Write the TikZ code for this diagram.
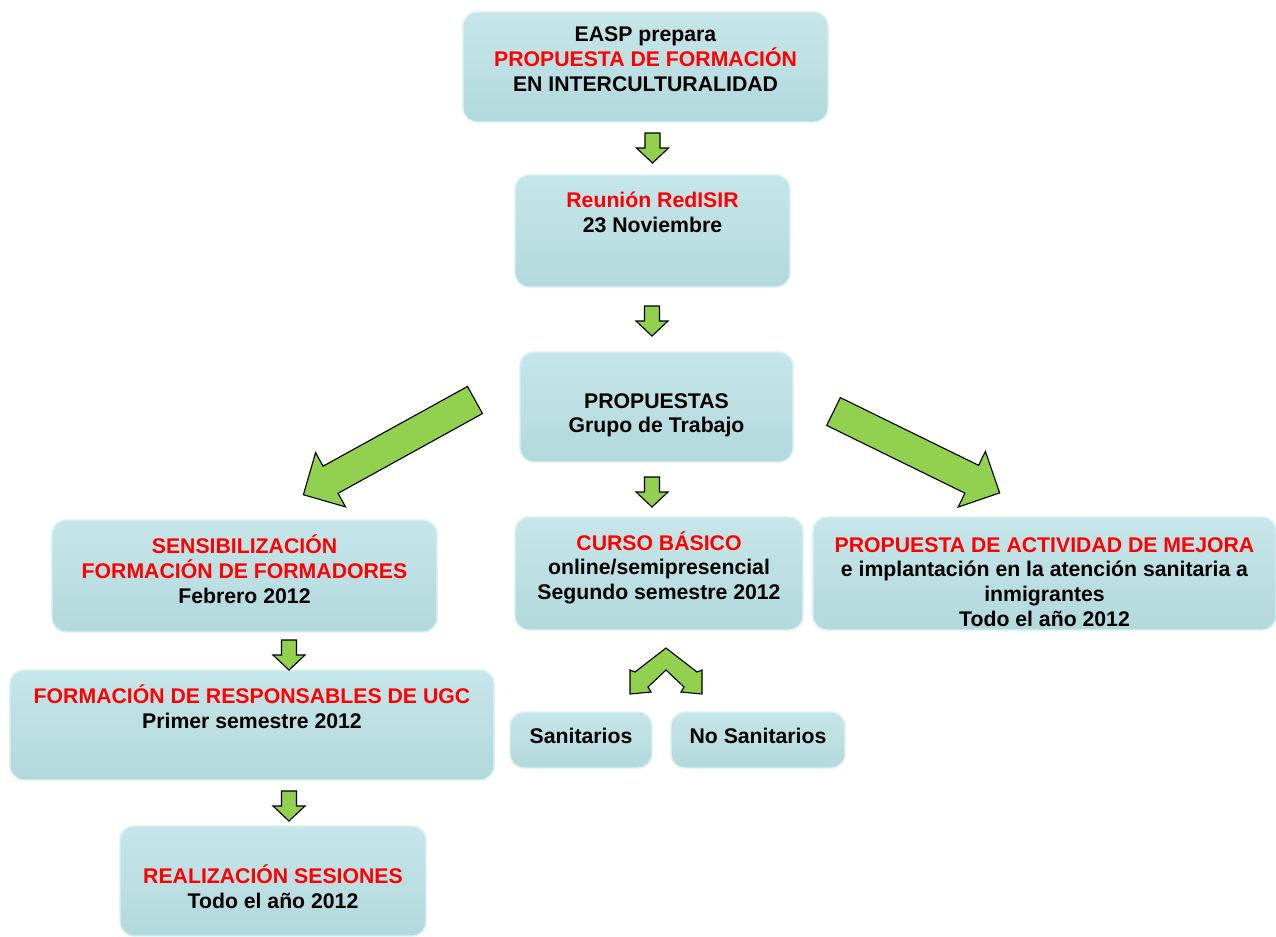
\documentclass[tikz,border=0pt]{standalone}
\usepackage{fontspec}
\setmainfont{Liberation Sans}
\definecolor{verde}{HTML}{92D050}
\definecolor{cajaarriba}{HTML}{C6E6E9}
\definecolor{cajaabajo}{HTML}{B2D9DD}
\definecolor{cajaborde}{HTML}{DDF2F4}

\begin{document}
\begin{tikzpicture}
  [x=0.025cm,y=-0.025cm,
   caja/.style={draw=cajaborde,line width=1pt,rounded corners=0.35cm,
     top color=cajaarriba,bottom color=cajaabajo,align=center,inner sep=0pt,
     font=\bfseries\fontsize{15.1}{17.5}\selectfont},
   flecha/.style={draw=black,fill=verde,line width=0.8pt,line join=miter},
   pics/bajada/.style={code={
     \draw[flecha] (-7.5,-15) -- (-7.5,0) -- (-16,0) -- (0,15) -- (16,0) -- (7.5,0) -- (7.5,-15) -- cycle;}},
   pics/diagonal/.style={code={
     \draw[flecha] (0,-15.5) -- (#1-31,-15.5) -- (#1-31,-31) -- (#1,0) -- (#1-31,31) -- (#1-31,15.5) -- (0,15.5) -- cycle;}}]
  \useasboundingbox (0,0) rectangle (1276,936);

  \node[caja,minimum width=9.125cm,minimum height=2.75cm,text depth=0.4cm] (easp) at (645.5,67)
    {EASP prepara\\\textcolor{red}{PROPUESTA DE FORMACIÓN}\\EN INTERCULTURALIDAD};
  \node[caja,minimum width=6.875cm,minimum height=2.8cm,text depth=0.925cm] (reunion) at (652.5,231)
    {\textcolor{red}{Reunión RedISIR}\\23 Noviembre};
  \node[caja,minimum width=6.825cm,minimum height=2.75cm,text height=1.4cm] (propuestas) at (656.5,407)
    {PROPUESTAS\\Grupo de Trabajo};
  \node[caja,minimum width=9.625cm,minimum height=2.8cm,text depth=0.35cm] (sensib) at (244.5,576)
    {\textcolor{red}{SENSIBILIZACIÓN}\\\textcolor{red}{FORMACIÓN DE FORMADORES}\\Febrero 2012};
  \node[caja,minimum width=7.2cm,minimum height=2.825cm,text depth=0.4cm] (curso) at (659,573.5)
    {\textcolor{red}{CURSO BÁSICO}\\online/semipresencial\\Segundo semestre 2012};
  \node[caja,minimum width=11.575cm,minimum height=2.825cm,text height=2.63cm] (mejora) at (1044.5,573.5)
    {\textcolor{red}{PROPUESTA DE ACTIVIDAD DE MEJORA}\\e implantación en la atención sanitaria a\\inmigrantes\\Todo el año 2012};
  \node[caja,minimum width=12.1cm,minimum height=2.75cm,text depth=0.925cm] (respons) at (252,725)
    {\textcolor{red}{FORMACIÓN DE RESPONSABLES DE UGC}\\Primer semestre 2012};
  \node[caja,minimum width=3.55cm,minimum height=1.4cm,text depth=0.2cm] (sanit) at (581,740) {Sanitarios};
  \node[caja,minimum width=4.35cm,minimum height=1.4cm,text depth=0.2cm] (nosanit) at (758,740) {No Sanitarios};
  \node[caja,minimum width=7.65cm,minimum height=2.75cm,text height=1.36cm] (sesiones) at (273,881)
    {\textcolor{red}{REALIZACIÓN SESIONES}\\Todo el año 2012};

  % flechas verdes
  \pic at (652.5,148) {bajada};
  \pic at (652,321) {bajada};
  \pic at (652,492) {bajada};
  \pic at (289,655) {bajada};
  \pic at (289,806) {bajada};
  \pic[rotate=208.9] at (475,400) {diagonal=196};
  \pic[rotate=-26.1] at (833.5,411.5) {diagonal=185};
  \draw[flecha,shift={(666,648)}] (0,0) -- (31,24) -- (36,22) -- (36,46) -- (15,44) -- (18,39)
    -- (0,22) -- (-18,39) -- (-15,44) -- (-36,46) -- (-36,22) -- (-31,24) -- cycle;
\end{tikzpicture}
\end{document}
